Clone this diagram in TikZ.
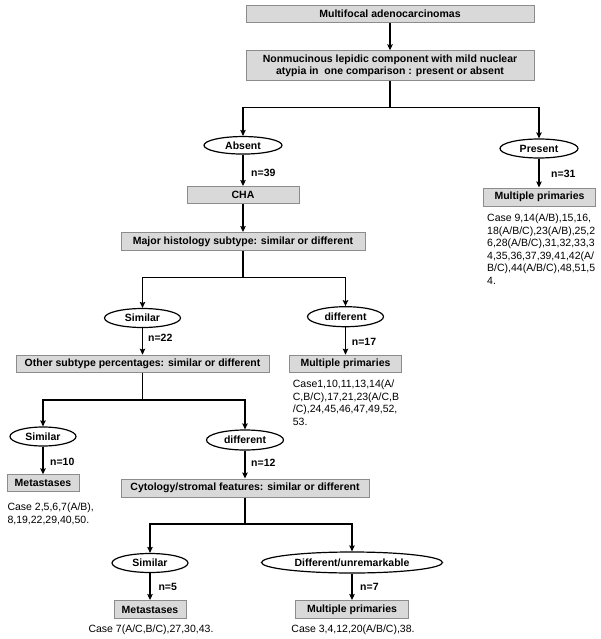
\documentclass[tikz,border=0pt]{standalone}
\usepackage{fontspec}
\setmainfont{Liberation Sans}
\usetikzlibrary{shapes.geometric,arrows.meta}
\definecolor{boxfill}{RGB}{217,217,217}
\definecolor{boxline}{RGB}{140,140,140}
\begin{document}
\begin{tikzpicture}[x=1pt,y=-1pt,
  every node/.style={font=\fontsize{10.5}{12.5}\selectfont},
  gbox/.style={draw=boxline, fill=boxfill, line width=1pt, inner sep=0pt,
    font=\fontsize{10.5}{11.3}\selectfont\bfseries, align=center},
  oval/.style={ellipse, draw=black, fill=white, line width=1.2pt, inner sep=0pt,
    font=\fontsize{10.5}{12.5}\selectfont\bfseries},
  conn/.style={line width=1.2pt},
  arr/.style={line width=1.2pt, -{Stealth[length=6pt,width=5.5pt,inset=1pt]}},
  nlab/.style={anchor=west, inner sep=0pt, font=\fontsize{10.5}{12.5}\selectfont\bfseries},
  cases/.style={anchor=north west, inner sep=0pt, align=left},
  casec/.style={inner sep=0pt}]
\useasboundingbox (0,0) rectangle (600,639);

% boxes and ovals
\node[gbox, minimum width=288pt, minimum height=17pt] (b1) at (390,13.7) {Multifocal adenocarcinomas};
\node[gbox, minimum width=288pt, minimum height=30pt] (b2) at (390,65.8) {Nonmucinous lepidic component with mild nuclear\\atypia in\ \ one comparison : present or absent};
\node[oval, minimum width=78pt, minimum height=17.5pt] (absent) at (243,145.3) {Absent};
\node[oval, minimum width=78pt, minimum height=19pt] (present) at (539,148.5) {Present};
\node[gbox, minimum width=112pt, minimum height=17pt] (cha) at (243,195) {CHA};
\node[gbox, minimum width=244pt, minimum height=18pt] (major) at (243,241.5) {Major histology subtype: similar or different};
\node[gbox, minimum width=112pt, minimum height=18pt] (mp1) at (539.5,197) {Multiple primaries};
\node[oval, minimum width=76pt, minimum height=19pt] (sim1) at (142.5,318) {Similar};
\node[oval, minimum width=76pt, minimum height=20pt] (diff1) at (345.5,316.7) {different};
\node[gbox, minimum width=253pt, minimum height=17pt] (other) at (142.5,363.7) {Other subtype percentages: similar or different};
\node[gbox, minimum width=112pt, minimum height=17pt] (mp2) at (345.5,363.7) {Multiple primaries};
\node[oval, minimum width=66pt, minimum height=19pt] (sim2) at (43,436.5) {Similar};
\node[oval, minimum width=77pt, minimum height=20pt] (diff2) at (245,440) {different};
\node[gbox, minimum width=72pt, minimum height=17pt] (met1) at (43,483.3) {Metastases};
\node[gbox, minimum width=248pt, minimum height=18pt] (cyto) at (245,488) {Cytology/stromal features: similar or different};
\node[oval, minimum width=76pt, minimum height=19pt] (sim3) at (150,563) {Similar};
\node[oval, minimum width=181pt, minimum height=21pt] (diff3) at (352,562.5) {Different/unremarkable};
\node[gbox, minimum width=72pt, minimum height=18pt] (met2) at (150,609.5) {Metastases};
\node[gbox, minimum width=113pt, minimum height=18pt] (mp3) at (352,609.5) {Multiple primaries};

% split points
\coordinate (s1) at (390,107.7);
\coordinate (s2) at (243,277.7);
\coordinate (s3) at (142.5,400);
\coordinate (s4) at (245,524);

% connectors
\draw[arr] (b1) -- (b2);
\draw[conn] (b2.south) -- (s1);
\draw[arr] (s1) -| (absent.north);
\draw[arr] (s1) -| (present.north);
\draw[arr] (absent) -- (cha);
\draw[arr] (present) -- (mp1.north -| present.south);
\draw[arr] (cha) -- (major);
\draw[conn] (major.south) -- (s2);
\draw[arr] (s2) -| (sim1.north);
\draw[arr] (s2) -| (diff1.north);
\draw[arr] (sim1) -- (other);
\draw[arr] (diff1) -- (mp2);
\draw[conn] (other.south) -- (s3);
\draw[arr] (s3) -| (sim2.north);
\draw[arr] (s3) -| (diff2.north);
\draw[arr] (sim2) -- (met1);
\draw[arr] (diff2) -- (cyto.north -| diff2.south);
\draw[conn] (cyto.south) -- (s4);
\draw[arr] (s4) -| (sim3.north);
\draw[arr] (s4) -| (diff3.north);
\draw[arr] (sim3) -- (met2);
\draw[arr] (diff3) -- (mp3);

% n labels
\node[nlab] (n39) at (251,172.7) {n=39};
\node[nlab] (n31) at (551,174) {n=31};
\node[nlab] (n22) at (148,338) {n=22};
\node[nlab] (n17) at (351.7,341.7) {n=17};
\node[nlab] (n10) at (50,462.3) {n=10};
\node[nlab] (n12) at (251,463.3) {n=12};
\node[nlab] (n5) at (158.3,586.7) {n=5};
\node[nlab] (n7) at (360,586.7) {n=7};

% case lists
\node[cases] (c1) at (487,214) {Case 9,14(A/B),15,16,\\18(A/B/C),23(A/B),25,2\\6,28(A/B/C),31,32,33,3\\4,35,36,37,39,41,42(A/\\B/C),44(A/B/C),48,51,5\\4.};
\node[cases] (c2) at (292.7,379.7) {Case1,10,11,13,14(A/\\C,B/C),17,21,23(A/C,B\\/C),24,45,46,47,49,52,\\53.};
\node[cases] (c3) at (7.3,502.7) {Case 2,5,6,7(A/B),\\8,19,22,29,40,50.};
\node[casec] (c4) at (151,630) {Case 7(A/C,B/C),27,30,43.};
\node[casec] (c5) at (353,630) {Case 3,4,12,20(A/B/C),38.};
\end{tikzpicture}
\end{document}
